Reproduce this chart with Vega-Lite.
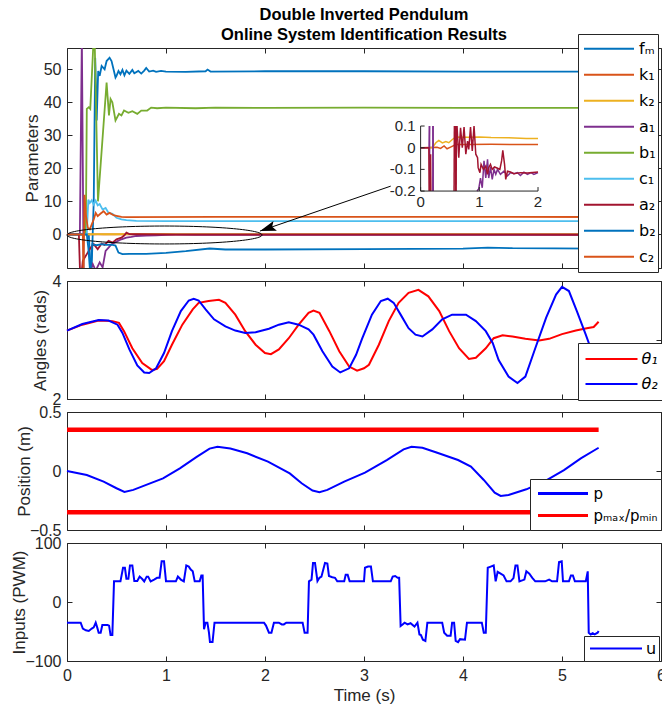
{
  "$schema": "https://vega.github.io/schema/vega-lite/v6.json",
  "background": "white",
  "padding": {"left": 9, "top": 6, "right": 0, "bottom": 0},
  "bounds": "flush",
  "spacing": 13,
  "title": {
    "text": ["Double Inverted Pendulum", "Online System Identification Results"],
    "anchor": "middle",
    "frame": "group",
    "fontSize": 16.5,
    "fontWeight": "bold",
    "font": "Liberation Sans",
    "color": "#000000",
    "lineHeight": 20,
    "offset": -10
  },
  "datasets": {
    "params": [
      {"s":"fₘ","t":0,"v":0},{"s":"fₘ","t":0.22,"v":0},{"s":"fₘ","t":0.245,"v":-14},{"s":"fₘ","t":0.27,"v":10},{"s":"fₘ","t":0.285,"v":53.5},{"s":"fₘ","t":0.3,"v":34.5},{"s":"fₘ","t":0.315,"v":49.5},{"s":"fₘ","t":0.33,"v":48},{"s":"fₘ","t":0.35,"v":51},{"s":"fₘ","t":0.38,"v":50},{"s":"fₘ","t":0.4,"v":52.5},{"s":"fₘ","t":0.43,"v":53.5},{"s":"fₘ","t":0.45,"v":52.5},{"s":"fₘ","t":0.47,"v":50},{"s":"fₘ","t":0.49,"v":47.5},{"s":"fₘ","t":0.5,"v":48},{"s":"fₘ","t":0.52,"v":49.5},{"s":"fₘ","t":0.54,"v":48.5},{"s":"fₘ","t":0.56,"v":49.8},{"s":"fₘ","t":0.58,"v":48.2},{"s":"fₘ","t":0.6,"v":49.6},{"s":"fₘ","t":0.63,"v":48.6},{"s":"fₘ","t":0.66,"v":49.8},{"s":"fₘ","t":0.68,"v":48.8},{"s":"fₘ","t":0.72,"v":49.5},{"s":"fₘ","t":0.75,"v":48.7},{"s":"fₘ","t":0.78,"v":49.6},{"s":"fₘ","t":0.8,"v":50.4},{"s":"fₘ","t":0.83,"v":49.3},{"s":"fₘ","t":0.87,"v":49.6},{"s":"fₘ","t":0.9,"v":49.2},{"s":"fₘ","t":0.95,"v":49.5},{"s":"fₘ","t":1.0,"v":49.3},{"s":"fₘ","t":1.2,"v":49.2},{"s":"fₘ","t":1.4,"v":49.4},{"s":"fₘ","t":1.42,"v":49.9},{"s":"fₘ","t":1.45,"v":49.3},{"s":"fₘ","t":2.0,"v":49.4},{"s":"fₘ","t":3.0,"v":49.4},{"s":"fₘ","t":4.0,"v":49.3},{"s":"fₘ","t":5.35,"v":49.3},
      {"s":"k₁","t":0,"v":0},{"s":"k₁","t":0.28,"v":0},{"s":"k₁","t":0.34,"v":-0.003},{"s":"k₁","t":0.4,"v":0.008},{"s":"k₁","t":0.45,"v":-0.005},{"s":"k₁","t":0.51,"v":0.003},{"s":"k₁","t":0.6,"v":0.015},{"s":"k₁","t":5.35,"v":0.015},
      {"s":"k₂","t":0,"v":0},{"s":"k₂","t":0.2,"v":0},{"s":"k₂","t":0.26,"v":0.023},{"s":"k₂","t":0.31,"v":0.034},{"s":"k₂","t":0.37,"v":0.022},{"s":"k₂","t":0.48,"v":0.023},{"s":"k₂","t":0.6,"v":0.049},{"s":"k₂","t":2,"v":0.042},{"s":"k₂","t":5.35,"v":0.04},
      {"s":"a₁","t":0,"v":0},{"s":"a₁","t":0.13,"v":0},{"s":"a₁","t":0.15,"v":60},{"s":"a₁","t":0.17,"v":-20},{"s":"a₁","t":0.22,"v":-12},{"s":"a₁","t":0.26,"v":-9},{"s":"a₁","t":0.29,"v":-11},{"s":"a₁","t":0.33,"v":-8.5},{"s":"a₁","t":0.36,"v":-10},{"s":"a₁","t":0.39,"v":-5},{"s":"a₁","t":0.42,"v":-4},{"s":"a₁","t":0.45,"v":-3},{"s":"a₁","t":0.5,"v":-2.2},{"s":"a₁","t":0.55,"v":-1.5},{"s":"a₁","t":0.6,"v":-1},{"s":"a₁","t":0.65,"v":-0.8},{"s":"a₁","t":0.7,"v":-0.5},{"s":"a₁","t":0.8,"v":-0.4},{"s":"a₁","t":0.9,"v":-0.3},{"s":"a₁","t":1.0,"v":-0.15},{"s":"a₁","t":1.1,"v":-0.1},{"s":"a₁","t":1.3,"v":-0.12},{"s":"a₁","t":5.35,"v":-0.12},
      {"s":"b₁","t":0,"v":0},{"s":"b₁","t":0.19,"v":0},{"s":"b₁","t":0.2,"v":38},{"s":"b₁","t":0.22,"v":38.5},{"s":"b₁","t":0.235,"v":38},{"s":"b₁","t":0.27,"v":60},{"s":"b₁","t":0.28,"v":58},{"s":"b₁","t":0.313,"v":10},{"s":"b₁","t":0.4,"v":46},{"s":"b₁","t":0.424,"v":36},{"s":"b₁","t":0.44,"v":41},{"s":"b₁","t":0.458,"v":40},{"s":"b₁","t":0.49,"v":34.5},{"s":"b₁","t":0.525,"v":36.5},{"s":"b₁","t":0.55,"v":36},{"s":"b₁","t":0.576,"v":37.5},{"s":"b₁","t":0.62,"v":36.8},{"s":"b₁","t":0.66,"v":37.3},{"s":"b₁","t":0.71,"v":36.5},{"s":"b₁","t":0.75,"v":37.5},{"s":"b₁","t":0.81,"v":37.5},{"s":"b₁","t":0.85,"v":38.4},{"s":"b₁","t":0.91,"v":38.2},{"s":"b₁","t":1.0,"v":38.4},{"s":"b₁","t":1.3,"v":38.2},{"s":"b₁","t":1.5,"v":38.4},{"s":"b₁","t":2,"v":38.3},{"s":"b₁","t":3,"v":38.4},{"s":"b₁","t":4,"v":38.3},{"s":"b₁","t":5.35,"v":38.3},
      {"s":"c₁","t":0,"v":0},{"s":"c₁","t":0.2,"v":0},{"s":"c₁","t":0.215,"v":10.5},{"s":"c₁","t":0.23,"v":9.5},{"s":"c₁","t":0.25,"v":10.3},{"s":"c₁","t":0.27,"v":9},{"s":"c₁","t":0.29,"v":10.2},{"s":"c₁","t":0.31,"v":8.8},{"s":"c₁","t":0.33,"v":9.2},{"s":"c₁","t":0.36,"v":7.5},{"s":"c₁","t":0.39,"v":8},{"s":"c₁","t":0.42,"v":6.5},{"s":"c₁","t":0.46,"v":6.2},{"s":"c₁","t":0.5,"v":5},{"s":"c₁","t":0.55,"v":4.5},{"s":"c₁","t":0.6,"v":4.3},{"s":"c₁","t":0.7,"v":4.1},{"s":"c₁","t":1.0,"v":4.0},{"s":"c₁","t":5.35,"v":4.0},
      {"s":"a₂","t":0,"v":0},{"s":"a₂","t":0.12,"v":0},{"s":"a₂","t":0.135,"v":-15},{"s":"a₂","t":0.16,"v":-8},{"s":"a₂","t":0.2,"v":-6},{"s":"a₂","t":0.24,"v":-4},{"s":"a₂","t":0.27,"v":-3},{"s":"a₂","t":0.31,"v":-4.5},{"s":"a₂","t":0.35,"v":-2.8},{"s":"a₂","t":0.38,"v":-3.2},{"s":"a₂","t":0.42,"v":-2},{"s":"a₂","t":0.46,"v":-2.5},{"s":"a₂","t":0.5,"v":-1.5},{"s":"a₂","t":0.55,"v":-1},{"s":"a₂","t":0.58,"v":-0.3},{"s":"a₂","t":0.6,"v":0.5},{"s":"a₂","t":0.63,"v":0.05},{"s":"a₂","t":0.7,"v":0.02},{"s":"a₂","t":1.0,"v":-0.05},{"s":"a₂","t":1.1,"v":-0.1},{"s":"a₂","t":5.35,"v":-0.12},
      {"s":"b₂","t":0,"v":0},{"s":"b₂","t":0.2,"v":0},{"s":"b₂","t":0.215,"v":-4},{"s":"b₂","t":0.235,"v":-12},{"s":"b₂","t":0.255,"v":-3},{"s":"b₂","t":0.3,"v":-3.3},{"s":"b₂","t":0.35,"v":-3},{"s":"b₂","t":0.4,"v":-3.2},{"s":"b₂","t":0.45,"v":-3.1},{"s":"b₂","t":0.49,"v":-3.4},{"s":"b₂","t":0.52,"v":-5.5},{"s":"b₂","t":0.56,"v":-6},{"s":"b₂","t":0.63,"v":-5.9},{"s":"b₂","t":0.8,"v":-5.9},{"s":"b₂","t":1.0,"v":-5.6},{"s":"b₂","t":1.2,"v":-5.1},{"s":"b₂","t":1.44,"v":-4.3},{"s":"b₂","t":1.6,"v":-4.6},{"s":"b₂","t":2.0,"v":-4.6},{"s":"b₂","t":3.0,"v":-4.5},{"s":"b₂","t":4.0,"v":-4.3},{"s":"b₂","t":4.25,"v":-4.0},{"s":"b₂","t":4.5,"v":-4.2},{"s":"b₂","t":5.35,"v":-4.3},
      {"s":"c₂","t":0,"v":0},{"s":"c₂","t":0.16,"v":0},{"s":"c₂","t":0.167,"v":-12},{"s":"c₂","t":0.177,"v":12},{"s":"c₂","t":0.19,"v":6},{"s":"c₂","t":0.21,"v":2},{"s":"c₂","t":0.23,"v":1.5},{"s":"c₂","t":0.25,"v":3},{"s":"c₂","t":0.27,"v":4.5},{"s":"c₂","t":0.29,"v":6.5},{"s":"c₂","t":0.31,"v":5.5},{"s":"c₂","t":0.34,"v":6.3},{"s":"c₂","t":0.37,"v":7},{"s":"c₂","t":0.4,"v":6},{"s":"c₂","t":0.43,"v":6.5},{"s":"c₂","t":0.47,"v":5.8},{"s":"c₂","t":0.5,"v":5.6},{"s":"c₂","t":0.55,"v":5.3},{"s":"c₂","t":0.6,"v":5.2},{"s":"c₂","t":1.5,"v":5.3},{"s":"c₂","t":5.35,"v":5.25}
    ],
    "inset": [
      {"s":"k₁","g":1,"t":0,"v":0},{"s":"k₁","g":1,"t":0.28,"v":0.002},{"s":"k₁","g":1,"t":0.34,"v":-0.003},{"s":"k₁","g":1,"t":0.4,"v":0.008},{"s":"k₁","g":1,"t":0.45,"v":-0.005},{"s":"k₁","g":1,"t":0.51,"v":0.003},{"s":"k₁","g":1,"t":0.6,"v":0.015},{"s":"k₁","g":1,"t":0.8,"v":0.015},{"s":"k₁","g":1,"t":1.2,"v":0.016},{"s":"k₁","g":1,"t":1.6,"v":0.015},{"s":"k₁","g":1,"t":2.0,"v":0.015},
      {"s":"k₂","g":1,"t":0,"v":0},{"s":"k₂","g":1,"t":0.2,"v":0},{"s":"k₂","g":1,"t":0.26,"v":0.023},{"s":"k₂","g":1,"t":0.31,"v":0.034},{"s":"k₂","g":1,"t":0.37,"v":0.022},{"s":"k₂","g":1,"t":0.43,"v":0.028},{"s":"k₂","g":1,"t":0.48,"v":0.023},{"s":"k₂","g":1,"t":0.54,"v":0.038},{"s":"k₂","g":1,"t":0.6,"v":0.049},{"s":"k₂","g":1,"t":0.8,"v":0.048},{"s":"k₂","g":1,"t":1.0,"v":0.049},{"s":"k₂","g":1,"t":1.2,"v":0.047},{"s":"k₂","g":1,"t":1.5,"v":0.046},{"s":"k₂","g":1,"t":1.8,"v":0.043},{"s":"k₂","g":1,"t":2.0,"v":0.042},
      {"s":"a₁","g":1,"t":0,"v":0},{"s":"a₁","g":1,"t":0.145,"v":0},{"s":"a₁","g":1,"t":0.15,"v":0.1},
      {"s":"a₁","g":2,"t":0.152,"v":0.1},{"s":"a₁","g":2,"t":0.155,"v":-0.2},
      {"s":"a₁","g":3,"t":0.208,"v":-0.2},{"s":"a₁","g":3,"t":0.21,"v":0.1},
      {"s":"a₁","g":4,"t":0.212,"v":0.1},{"s":"a₁","g":4,"t":0.215,"v":-0.2},
      {"s":"a₁","g":5,"t":0.96,"v":-0.2},{"s":"a₁","g":5,"t":0.99,"v":-0.19},{"s":"a₁","g":5,"t":1.02,"v":-0.14},{"s":"a₁","g":5,"t":1.05,"v":-0.185},{"s":"a₁","g":5,"t":1.08,"v":-0.06},{"s":"a₁","g":5,"t":1.11,"v":-0.14},{"s":"a₁","g":5,"t":1.14,"v":-0.054},{"s":"a₁","g":5,"t":1.16,"v":-0.14},{"s":"a₁","g":5,"t":1.19,"v":-0.09},{"s":"a₁","g":5,"t":1.22,"v":-0.146},{"s":"a₁","g":5,"t":1.25,"v":-0.1},{"s":"a₁","g":5,"t":1.28,"v":-0.123},{"s":"a₁","g":5,"t":1.31,"v":-0.1},{"s":"a₁","g":5,"t":1.36,"v":-0.123},{"s":"a₁","g":5,"t":1.42,"v":-0.108},{"s":"a₁","g":5,"t":1.48,"v":-0.13},{"s":"a₁","g":5,"t":1.53,"v":-0.115},{"s":"a₁","g":5,"t":1.59,"v":-0.12},{"s":"a₁","g":5,"t":1.65,"v":-0.115},{"s":"a₁","g":5,"t":1.7,"v":-0.128},{"s":"a₁","g":5,"t":1.76,"v":-0.113},{"s":"a₁","g":5,"t":1.82,"v":-0.123},{"s":"a₁","g":5,"t":1.88,"v":-0.115},{"s":"a₁","g":5,"t":1.93,"v":-0.123},{"s":"a₁","g":5,"t":2.0,"v":-0.115},
      {"s":"a₂","g":1,"t":0,"v":0},{"s":"a₂","g":1,"t":0.14,"v":0},{"s":"a₂","g":1,"t":0.145,"v":-0.2},
      {"s":"a₂","g":2,"t":0.165,"v":-0.2},{"s":"a₂","g":2,"t":0.17,"v":-0.03},{"s":"a₂","g":2,"t":0.175,"v":-0.2},
      {"s":"a₂","g":3,"t":0.57,"v":-0.2},{"s":"a₂","g":3,"t":0.575,"v":0.1},
      {"s":"a₂","g":4,"t":0.59,"v":0.1},{"s":"a₂","g":4,"t":0.595,"v":-0.2},
      {"s":"a₂","g":5,"t":0.605,"v":-0.2},{"s":"a₂","g":5,"t":0.61,"v":0.1},
      {"s":"a₂","g":6,"t":0.62,"v":0.1},{"s":"a₂","g":6,"t":0.65,"v":-0.046},{"s":"a₂","g":6,"t":0.68,"v":0.092},{"s":"a₂","g":6,"t":0.71,"v":0},{"s":"a₂","g":6,"t":0.74,"v":0.095},{"s":"a₂","g":6,"t":0.77,"v":-0.03},{"s":"a₂","g":6,"t":0.8,"v":0.03},{"s":"a₂","g":6,"t":0.82,"v":-0.008},{"s":"a₂","g":6,"t":0.85,"v":0.095},{"s":"a₂","g":6,"t":0.88,"v":-0.015},{"s":"a₂","g":6,"t":0.91,"v":0.1},{"s":"a₂","g":6,"t":0.94,"v":-0.03},{"s":"a₂","g":6,"t":0.97,"v":-0.046},{"s":"a₂","g":6,"t":0.98,"v":-0.092},{"s":"a₂","g":6,"t":1.01,"v":-0.115},{"s":"a₂","g":6,"t":1.03,"v":-0.077},{"s":"a₂","g":6,"t":1.07,"v":-0.1},{"s":"a₂","g":6,"t":1.11,"v":-0.085},{"s":"a₂","g":6,"t":1.14,"v":-0.123},{"s":"a₂","g":6,"t":1.16,"v":-0.092},{"s":"a₂","g":6,"t":1.19,"v":-0.077},{"s":"a₂","g":6,"t":1.22,"v":-0.1},{"s":"a₂","g":6,"t":1.26,"v":-0.089},{"s":"a₂","g":6,"t":1.31,"v":-0.095},{"s":"a₂","g":6,"t":1.35,"v":-0.1},{"s":"a₂","g":6,"t":1.38,"v":-0.06},{"s":"a₂","g":6,"t":1.4,"v":-0.012},{"s":"a₂","g":6,"t":1.43,"v":-0.077},{"s":"a₂","g":6,"t":1.45,"v":-0.146},{"s":"a₂","g":6,"t":1.48,"v":-0.108},{"s":"a₂","g":6,"t":1.53,"v":-0.112},{"s":"a₂","g":6,"t":1.59,"v":-0.12},{"s":"a₂","g":6,"t":1.7,"v":-0.115},{"s":"a₂","g":6,"t":1.82,"v":-0.117},{"s":"a₂","g":6,"t":2.0,"v":-0.112}
    ],
    "insetYLabels": [{"lab":"0.1","v":0.1},{"lab":"0","v":0},{"lab":"-0.1","v":-0.1},{"lab":"-0.2","v":-0.2}],
    "insetXLabels": [{"lab":"0","t":0},{"lab":"1","t":1},{"lab":"2","t":2}],
    "arrow": [{"t":3.27,"v":14.6},{"t":1.95,"v":1.0}],
    "angles": [
      {"s":"θ₁","t":0,"v":3.16},{"s":"θ₁","t":0.155,"v":3.26},{"s":"θ₁","t":0.32,"v":3.33},{"s":"θ₁","t":0.46,"v":3.32},{"s":"θ₁","t":0.525,"v":3.29},{"s":"θ₁","t":0.576,"v":3.15},{"s":"θ₁","t":0.66,"v":2.86},{"s":"θ₁","t":0.76,"v":2.61},{"s":"θ₁","t":0.86,"v":2.49},{"s":"θ₁","t":0.91,"v":2.51},{"s":"θ₁","t":0.98,"v":2.64},{"s":"θ₁","t":1.06,"v":2.92},{"s":"θ₁","t":1.165,"v":3.26},{"s":"θ₁","t":1.27,"v":3.52},{"s":"θ₁","t":1.33,"v":3.63},{"s":"θ₁","t":1.43,"v":3.66},{"s":"θ₁","t":1.535,"v":3.68},{"s":"θ₁","t":1.6,"v":3.63},{"s":"θ₁","t":1.7,"v":3.43},{"s":"θ₁","t":1.8,"v":3.15},{"s":"θ₁","t":1.905,"v":2.92},{"s":"θ₁","t":2.0,"v":2.78},{"s":"θ₁","t":2.06,"v":2.76},{"s":"θ₁","t":2.14,"v":2.84},{"s":"θ₁","t":2.24,"v":3.03},{"s":"θ₁","t":2.34,"v":3.26},{"s":"θ₁","t":2.44,"v":3.46},{"s":"θ₁","t":2.49,"v":3.5},{"s":"θ₁","t":2.55,"v":3.46},{"s":"θ₁","t":2.65,"v":3.15},{"s":"θ₁","t":2.75,"v":2.81},{"s":"θ₁","t":2.85,"v":2.55},{"s":"θ₁","t":2.93,"v":2.48},{"s":"θ₁","t":3.0,"v":2.52},{"s":"θ₁","t":3.05,"v":2.58},{"s":"θ₁","t":3.15,"v":2.92},{"s":"θ₁","t":3.25,"v":3.32},{"s":"θ₁","t":3.35,"v":3.63},{"s":"θ₁","t":3.45,"v":3.8},{"s":"θ₁","t":3.55,"v":3.85},{"s":"θ₁","t":3.65,"v":3.74},{"s":"θ₁","t":3.76,"v":3.49},{"s":"θ₁","t":3.86,"v":3.15},{"s":"θ₁","t":3.96,"v":2.86},{"s":"θ₁","t":4.06,"v":2.68},{"s":"θ₁","t":4.13,"v":2.7},{"s":"θ₁","t":4.23,"v":2.86},{"s":"θ₁","t":4.31,"v":3.03},{"s":"θ₁","t":4.4,"v":3.08},{"s":"θ₁","t":4.5,"v":3.06},{"s":"θ₁","t":4.63,"v":3.02},{"s":"θ₁","t":4.77,"v":2.99},{"s":"θ₁","t":4.87,"v":3.02},{"s":"θ₁","t":5.0,"v":3.1},{"s":"θ₁","t":5.14,"v":3.16},{"s":"θ₁","t":5.25,"v":3.2},{"s":"θ₁","t":5.32,"v":3.22},{"s":"θ₁","t":5.37,"v":3.31},
      {"s":"θ₂","t":0,"v":3.16},{"s":"θ₂","t":0.155,"v":3.27},{"s":"θ₂","t":0.32,"v":3.34},{"s":"θ₂","t":0.42,"v":3.33},{"s":"θ₂","t":0.51,"v":3.26},{"s":"θ₂","t":0.56,"v":3.12},{"s":"θ₂","t":0.63,"v":2.84},{"s":"θ₂","t":0.71,"v":2.57},{"s":"θ₂","t":0.78,"v":2.45},{"s":"θ₂","t":0.83,"v":2.44},{"s":"θ₂","t":0.9,"v":2.52},{"s":"θ₂","t":0.98,"v":2.78},{"s":"θ₂","t":1.06,"v":3.15},{"s":"θ₂","t":1.15,"v":3.49},{"s":"θ₂","t":1.23,"v":3.67},{"s":"θ₂","t":1.28,"v":3.7},{"s":"θ₂","t":1.33,"v":3.67},{"s":"θ₂","t":1.4,"v":3.52},{"s":"θ₂","t":1.485,"v":3.35},{"s":"θ₂","t":1.6,"v":3.23},{"s":"θ₂","t":1.7,"v":3.16},{"s":"θ₂","t":1.8,"v":3.12},{"s":"θ₂","t":1.905,"v":3.13},{"s":"θ₂","t":2.04,"v":3.19},{"s":"θ₂","t":2.14,"v":3.26},{"s":"θ₂","t":2.24,"v":3.3},{"s":"θ₂","t":2.34,"v":3.26},{"s":"θ₂","t":2.44,"v":3.18},{"s":"θ₂","t":2.49,"v":3.09},{"s":"θ₂","t":2.58,"v":2.81},{"s":"θ₂","t":2.68,"v":2.55},{"s":"θ₂","t":2.76,"v":2.45},{"s":"θ₂","t":2.85,"v":2.52},{"s":"θ₂","t":2.92,"v":2.75},{"s":"θ₂","t":2.98,"v":3.02},{"s":"θ₂","t":3.08,"v":3.43},{"s":"θ₂","t":3.17,"v":3.66},{"s":"θ₂","t":3.24,"v":3.7},{"s":"θ₂","t":3.3,"v":3.63},{"s":"θ₂","t":3.37,"v":3.43},{"s":"θ₂","t":3.45,"v":3.2},{"s":"θ₂","t":3.52,"v":3.09},{"s":"θ₂","t":3.59,"v":3.06},{"s":"θ₂","t":3.69,"v":3.18},{"s":"θ₂","t":3.79,"v":3.35},{"s":"θ₂","t":3.89,"v":3.43},{"s":"θ₂","t":4.03,"v":3.43},{"s":"θ₂","t":4.13,"v":3.32},{"s":"θ₂","t":4.23,"v":3.15},{"s":"θ₂","t":4.3,"v":2.95},{"s":"θ₂","t":4.36,"v":2.66},{"s":"θ₂","t":4.46,"v":2.38},{"s":"θ₂","t":4.55,"v":2.27},{"s":"θ₂","t":4.63,"v":2.38},{"s":"θ₂","t":4.73,"v":2.86},{"s":"θ₂","t":4.84,"v":3.38},{"s":"θ₂","t":4.94,"v":3.77},{"s":"θ₂","t":5.0,"v":3.9},{"s":"θ₂","t":5.07,"v":3.83},{"s":"θ₂","t":5.15,"v":3.49},{"s":"θ₂","t":5.24,"v":3.09},{"s":"θ₂","t":5.29,"v":2.86},{"s":"θ₂","t":5.37,"v":2.5}
    ],
    "pos": [
      {"s":"p","b":"p","t":0,"v":0},{"s":"p","b":"p","t":0.2,"v":-0.034},{"s":"p","b":"p","t":0.37,"v":-0.09},{"s":"p","b":"p","t":0.5,"v":-0.146},{"s":"p","b":"p","t":0.58,"v":-0.177},{"s":"p","b":"p","t":0.67,"v":-0.16},{"s":"p","b":"p","t":0.8,"v":-0.118},{"s":"p","b":"p","t":0.97,"v":-0.062},{"s":"p","b":"p","t":1.14,"v":0.023},{"s":"p","b":"p","t":1.31,"v":0.12},{"s":"p","b":"p","t":1.44,"v":0.19},{"s":"p","b":"p","t":1.52,"v":0.206},{"s":"p","b":"p","t":1.65,"v":0.19},{"s":"p","b":"p","t":1.82,"v":0.15},{"s":"p","b":"p","t":2.03,"v":0.079},{"s":"p","b":"p","t":2.25,"v":-0.02},{"s":"p","b":"p","t":2.37,"v":-0.104},{"s":"p","b":"p","t":2.48,"v":-0.166},{"s":"p","b":"p","t":2.55,"v":-0.18},{"s":"p","b":"p","t":2.63,"v":-0.16},{"s":"p","b":"p","t":2.8,"v":-0.09},{"s":"p","b":"p","t":3.01,"v":-0.014},{"s":"p","b":"p","t":3.23,"v":0.093},{"s":"p","b":"p","t":3.4,"v":0.183},{"s":"p","b":"p","t":3.48,"v":0.206},{"s":"p","b":"p","t":3.59,"v":0.197},{"s":"p","b":"p","t":3.74,"v":0.155},{"s":"p","b":"p","t":3.95,"v":0.093},{"s":"p","b":"p","t":4.08,"v":0.037},{"s":"p","b":"p","t":4.21,"v":-0.076},{"s":"p","b":"p","t":4.32,"v":-0.183},{"s":"p","b":"p","t":4.38,"v":-0.211},{"s":"p","b":"p","t":4.46,"v":-0.203},{"s":"p","b":"p","t":4.64,"v":-0.155},{"s":"p","b":"p","t":4.85,"v":-0.076},{"s":"p","b":"p","t":5.02,"v":0.008},{"s":"p","b":"p","t":5.19,"v":0.107},{"s":"p","b":"p","t":5.37,"v":0.197},
      {"s":"pₘₐₓ/pₘᵢₙ","b":"max","t":0,"v":0.35},{"s":"pₘₐₓ/pₘᵢₙ","b":"max","t":5.37,"v":0.35},{"s":"pₘₐₓ/pₘᵢₙ","b":"min","t":0,"v":-0.35},{"s":"pₘₐₓ/pₘᵢₙ","b":"min","t":5.37,"v":-0.35}
    ],
    "inputs": [
      {"t":0,"v":-35},{"t":0.138,"v":-35},{"t":0.16,"v":-45},{"t":0.19,"v":-48},{"t":0.22,"v":-49},{"t":0.25,"v":-45},{"t":0.27,"v":-43},{"t":0.29,"v":-35},{"t":0.305,"v":-43},{"t":0.32,"v":-52},{"t":0.34,"v":-52},{"t":0.357,"v":-39},{"t":0.41,"v":-39},{"t":0.425,"v":-40},{"t":0.44,"v":-56},{"t":0.458,"v":-56},{"t":0.475,"v":35},{"t":0.54,"v":35},{"t":0.566,"v":58},{"t":0.585,"v":58},{"t":0.6,"v":39.4},{"t":0.62,"v":39.4},{"t":0.636,"v":62},{"t":0.66,"v":62},{"t":0.68,"v":35.5},{"t":0.71,"v":35.5},{"t":0.734,"v":43},{"t":0.76,"v":39},{"t":0.78,"v":35},{"t":0.805,"v":43},{"t":0.82,"v":43},{"t":0.845,"v":35},{"t":0.88,"v":38},{"t":0.91,"v":41},{"t":0.935,"v":41},{"t":0.956,"v":69},{"t":0.98,"v":69},{"t":1.0,"v":35},{"t":1.1,"v":35},{"t":1.12,"v":43},{"t":1.15,"v":38},{"t":1.18,"v":35},{"t":1.205,"v":62},{"t":1.23,"v":60},{"t":1.25,"v":55},{"t":1.27,"v":52},{"t":1.29,"v":35},{"t":1.34,"v":35},{"t":1.357,"v":45},{"t":1.37,"v":45},{"t":1.384,"v":-46},{"t":1.4,"v":-35},{"t":1.418,"v":-35},{"t":1.434,"v":-52},{"t":1.444,"v":-68},{"t":1.47,"v":-68},{"t":1.49,"v":-35},{"t":1.99,"v":-35},{"t":2.01,"v":-40},{"t":2.04,"v":-52},{"t":2.065,"v":-52},{"t":2.09,"v":-35},{"t":2.14,"v":-35},{"t":2.17,"v":-38},{"t":2.19,"v":-38},{"t":2.215,"v":-35},{"t":2.38,"v":-35},{"t":2.4,"v":-52},{"t":2.43,"v":-52},{"t":2.444,"v":35},{"t":2.47,"v":38},{"t":2.485,"v":66},{"t":2.505,"v":66},{"t":2.53,"v":35.5},{"t":2.55,"v":41},{"t":2.57,"v":43},{"t":2.606,"v":66},{"t":2.63,"v":65},{"t":2.646,"v":44},{"t":2.68,"v":42},{"t":2.707,"v":41},{"t":2.73,"v":35},{"t":2.8,"v":35},{"t":2.815,"v":46},{"t":2.835,"v":46},{"t":2.855,"v":35},{"t":3.0,"v":35},{"t":3.01,"v":58},{"t":3.04,"v":60},{"t":3.07,"v":60},{"t":3.09,"v":35},{"t":3.27,"v":35},{"t":3.29,"v":43},{"t":3.315,"v":44},{"t":3.34,"v":41},{"t":3.355,"v":41},{"t":3.37,"v":-40.6},{"t":3.39,"v":-38},{"t":3.41,"v":-35},{"t":3.44,"v":-38},{"t":3.47,"v":-36},{"t":3.51,"v":-41.7},{"t":3.54,"v":-35},{"t":3.56,"v":-55},{"t":3.575,"v":-56},{"t":3.595,"v":-64},{"t":3.62,"v":-66},{"t":3.64,"v":-35},{"t":3.79,"v":-35},{"t":3.81,"v":-52},{"t":3.84,"v":-57},{"t":3.875,"v":-57},{"t":3.89,"v":-35},{"t":3.91,"v":-35},{"t":3.926,"v":-66},{"t":3.95,"v":-68},{"t":3.97,"v":-63},{"t":4.02,"v":-64},{"t":4.04,"v":-35},{"t":4.19,"v":-35},{"t":4.21,"v":-52},{"t":4.23,"v":-52},{"t":4.25,"v":58},{"t":4.28,"v":60},{"t":4.31,"v":62},{"t":4.33,"v":35},{"t":4.35,"v":51},{"t":4.38,"v":48},{"t":4.41,"v":45},{"t":4.44,"v":35},{"t":4.48,"v":35},{"t":4.51,"v":40.6},{"t":4.53,"v":62},{"t":4.55,"v":62},{"t":4.57,"v":35},{"t":4.62,"v":38},{"t":4.64,"v":52},{"t":4.67,"v":48},{"t":4.7,"v":41},{"t":4.73,"v":35},{"t":4.83,"v":35},{"t":4.87,"v":38},{"t":4.9,"v":35},{"t":4.95,"v":35},{"t":4.97,"v":67.6},{"t":4.997,"v":69},{"t":5.01,"v":35},{"t":5.07,"v":35},{"t":5.09,"v":45},{"t":5.11,"v":45},{"t":5.13,"v":35},{"t":5.24,"v":35},{"t":5.26,"v":52},{"t":5.27,"v":-52},{"t":5.29,"v":-55},{"t":5.31,"v":-53},{"t":5.33,"v":-55},{"t":5.36,"v":-52},{"t":5.37,"v":-49}
    ]
  },
  "vconcat": [
    {
      "width": 594,
      "height": 220,
      "layer": [
        {
          "layer": [
            {
              "layer": [
                {
                  "data": {"name": "params"},
                  "mark": {"type": "line", "strokeWidth": 1.8, "clip": true},
                  "encoding": {
                    "x": {"field": "t", "type": "quantitative", "scale": {"domain": [0, 6], "nice": false, "zero": false}, "axis": {"values": [0,1,2,3,4,5,6], "labels": false, "title": null}},
                    "y": {"field": "v", "type": "quantitative", "scale": {"domain": [-10.2, 56.45], "nice": false, "zero": false}, "axis": {"values": [0,10,20,30,40,50], "format": "d", "title": "Parameters", "titleX": -35, "titleBaseline": "middle"}},
                    "color": {"field": "s", "type": "nominal", "scale": {"domain": ["fₘ","k₁","k₂","a₁","b₁","c₁","a₂","b₂","c₂"], "range": ["#0072BD","#D95319","#EDB120","#7E2F8E","#77AC30","#4DBEEE","#A2142F","#0072BD","#D95319"]},
                      "legend": {"orient": "none", "legendX": 511, "legendY": -14, "title": null, "symbolType": "stroke", "symbolSize": 2500, "symbolStrokeWidth": 2, "clipHeight": 25.5, "rowPadding": 0, "padding": 2, "symbolOffset": 3, "labelOffset": 4, "labelFontSize": 16, "labelFont": "DejaVu Sans", "labelColor": "#000000", "fillColor": "white", "strokeColor": "#262626"}}
                  }
                },
                {
                  "data": {"values": [{"t": 0.985, "v": -0.2}]},
                  "mark": {"type": "point", "shape": "M-1,0A1,0.092,0,1,0,1,0A1,0.092,0,1,0,-1,0Z", "size": 38025, "filled": false, "stroke": "#000000", "strokeWidth": 1, "opacity": 1},
                  "encoding": {
                    "x": {"field": "t", "type": "quantitative", "scale": {"domain": [0, 6], "nice": false, "zero": false}, "axis": {"values": [0,1,2,3,4,5,6], "labels": false, "title": null}},
                    "y": {"field": "v", "type": "quantitative", "scale": {"domain": [-10.2, 56.45], "nice": false, "zero": false}, "axis": {"values": [0,10,20,30,40,50], "format": "d", "title": "Parameters", "titleX": -35, "titleBaseline": "middle"}}
                  }
                },
                {
                  "data": {"name": "arrow"},
                  "mark": {"type": "line", "color": "#000000", "strokeWidth": 1},
                  "encoding": {
                    "x": {"field": "t", "type": "quantitative", "scale": {"domain": [0, 6], "nice": false, "zero": false}, "axis": {"values": [0,1,2,3,4,5,6], "labels": false, "title": null}},
                    "y": {"field": "v", "type": "quantitative", "scale": {"domain": [-10.2, 56.45], "nice": false, "zero": false}, "axis": {"values": [0,10,20,30,40,50], "format": "d", "title": "Parameters", "titleX": -35, "titleBaseline": "middle"}}
                  }
                },
                {
                  "data": {"values": [{"t": 1.95, "v": 1.0}]},
                  "mark": {"type": "point", "shape": "M0,0L2,-0.65L1.6,0L2,0.65Z", "size": 256, "filled": true, "color": "#000000", "opacity": 1, "angle": 341},
                  "encoding": {
                    "x": {"field": "t", "type": "quantitative", "scale": {"domain": [0, 6], "nice": false, "zero": false}, "axis": {"values": [0,1,2,3,4,5,6], "labels": false, "title": null}},
                    "y": {"field": "v", "type": "quantitative", "scale": {"domain": [-10.2, 56.45], "nice": false, "zero": false}, "axis": {"values": [0,10,20,30,40,50], "format": "d", "title": "Parameters", "titleX": -35, "titleBaseline": "middle"}}
                  }
                }
              ]
            },
            {
              "data": {"values": [{"t": 1, "v": 10}]},
              "mark": {"type": "point", "opacity": 0, "size": 1},
              "encoding": {
                "x": {"field": "t", "type": "quantitative", "scale": {"domain": [0, 6], "nice": false, "zero": false}, "axis": {"orient": "top", "values": [0,1,2,3,4,5,6], "labels": false, "title": null}},
                "y": {"field": "v", "type": "quantitative", "scale": {"domain": [-10.2, 56.45], "nice": false, "zero": false}, "axis": {"orient": "right", "values": [0,10,20,30,40,50], "labels": false, "title": null}}
              }
            }
          ],
          "resolve": {"axis": {"x": "independent", "y": "independent"}}
        },
        {
          "layer": [
            {
              "data": {"name": "inset"},
              "mark": {"type": "line", "strokeWidth": 1.5},
              "encoding": {
                "x": {"field": "t", "type": "quantitative", "scale": {"domain": [-6.024, 4.095], "nice": false, "zero": false}, "axis": null},
                "y": {"field": "v", "type": "quantitative", "scale": {"domain": [-0.555, 0.46], "nice": false, "zero": false}, "axis": null},
                "detail": {"field": "g", "type": "nominal"},
                "color": {"field": "s", "type": "nominal", "scale": {"domain": ["fₘ","k₁","k₂","a₁","b₁","c₁","a₂","b₂","c₂"], "range": ["#0072BD","#D95319","#EDB120","#7E2F8E","#77AC30","#4DBEEE","#A2142F","#0072BD","#D95319"]},
                  "legend": {"orient": "none", "legendX": 511, "legendY": -14, "title": null, "symbolType": "stroke", "symbolSize": 2500, "symbolStrokeWidth": 2, "clipHeight": 25.5, "rowPadding": 0, "padding": 2, "symbolOffset": 3, "labelOffset": 4, "labelFontSize": 16, "labelFont": "DejaVu Sans", "labelColor": "#000000", "fillColor": "white", "strokeColor": "#262626"}}
              }
            },
            {
              "data": {"values": [{"t": 0, "v": -0.2, "t2": 2, "v2": -0.2}, {"t": 0, "v": -0.2, "t2": 0, "v2": 0.1}]},
              "mark": {"type": "rule", "color": "#262626", "strokeWidth": 1},
              "encoding": {
                "x": {"field": "t", "type": "quantitative", "scale": {"domain": [-6.024, 4.095], "nice": false, "zero": false}, "axis": null},
                "y": {"field": "v", "type": "quantitative", "scale": {"domain": [-0.555, 0.46], "nice": false, "zero": false}, "axis": null},
                "x2": {"field": "t2"},
                "y2": {"field": "v2"}
              }
            },
            {
              "data": {"name": "insetXLabels"},
              "mark": {"type": "point", "shape": "M0,0L0,-1", "size": 64, "filled": false, "stroke": "#262626", "strokeWidth": 1, "opacity": 1},
              "encoding": {
                "x": {"field": "t", "type": "quantitative", "scale": {"domain": [-6.024, 4.095], "nice": false, "zero": false}, "axis": null},
                "y": {"datum": -0.2, "type": "quantitative", "scale": {"domain": [-0.555, 0.46], "nice": false, "zero": false}, "axis": null}
              }
            },
            {
              "data": {"name": "insetYLabels"},
              "mark": {"type": "point", "shape": "M0,0L1,0", "size": 64, "filled": false, "stroke": "#262626", "strokeWidth": 1, "opacity": 1},
              "encoding": {
                "x": {"datum": 0, "type": "quantitative", "scale": {"domain": [-6.024, 4.095], "nice": false, "zero": false}, "axis": null},
                "y": {"field": "v", "type": "quantitative", "scale": {"domain": [-0.555, 0.46], "nice": false, "zero": false}, "axis": null}
              }
            },
            {
              "data": {"name": "insetYLabels"},
              "mark": {"type": "text", "align": "right", "baseline": "middle", "dx": -5, "fontSize": 15, "color": "#262626"},
              "encoding": {
                "x": {"datum": 0, "type": "quantitative", "scale": {"domain": [-6.024, 4.095], "nice": false, "zero": false}, "axis": null},
                "y": {"field": "v", "type": "quantitative", "scale": {"domain": [-0.555, 0.46], "nice": false, "zero": false}, "axis": null},
                "text": {"field": "lab"}
              }
            },
            {
              "data": {"name": "insetXLabels"},
              "mark": {"type": "text", "align": "center", "baseline": "middle", "dy": 11, "fontSize": 15, "color": "#262626"},
              "encoding": {
                "x": {"field": "t", "type": "quantitative", "scale": {"domain": [-6.024, 4.095], "nice": false, "zero": false}, "axis": null},
                "y": {"datum": -0.2, "type": "quantitative", "scale": {"domain": [-0.555, 0.46], "nice": false, "zero": false}, "axis": null},
                "text": {"field": "lab"}
              }
            }
          ]
        }
      ],
      "resolve": {"scale": {"x": "independent", "y": "independent"}}
    },
    {
      "width": 594,
      "height": 118,
      "layer": [
        {
          "data": {"name": "angles"},
          "mark": {"type": "line", "strokeWidth": 2},
          "encoding": {
            "x": {"field": "t", "type": "quantitative", "scale": {"domain": [0, 6], "nice": false, "zero": false}, "axis": {"values": [0,1,2,3,4,5,6], "labels": false, "title": null}},
            "y": {"field": "v", "type": "quantitative", "scale": {"domain": [2, 4], "nice": false, "zero": false}, "axis": {"values": [2,3,4], "format": "d", "title": "Angles (rads)", "titleX": -27, "titleBaseline": "middle"}},
            "color": {"field": "s", "type": "nominal", "scale": {"domain": ["θ₁","θ₂"], "range": ["#FF0000","#0000FF"]},
              "legend": {"orient": "none", "legendX": 511, "legendY": 62, "title": null, "symbolType": "stroke", "symbolSize": 2704, "symbolStrokeWidth": 2, "clipHeight": 25, "rowPadding": 0, "padding": 3.5, "symbolOffset": 3, "labelOffset": 3, "labelFontSize": 16, "labelFontStyle": "italic", "labelFont": "DejaVu Sans", "labelColor": "#000000", "fillColor": "white", "strokeColor": "#262626"}}
          }
        },
        {
          "data": {"values": [{"t": 1, "v": 3}]},
          "mark": {"type": "point", "opacity": 0, "size": 1},
          "encoding": {
            "x": {"field": "t", "type": "quantitative", "scale": {"domain": [0, 6], "nice": false, "zero": false}, "axis": {"orient": "top", "values": [0,1,2,3,4,5,6], "labels": false, "title": null}},
            "y": {"field": "v", "type": "quantitative", "scale": {"domain": [2, 4], "nice": false, "zero": false}, "axis": {"orient": "right", "values": [2,3,4], "labels": false, "title": null}}
          }
        }
      ],
      "resolve": {"axis": {"x": "independent", "y": "independent"}}
    },
    {
      "width": 594,
      "height": 118,
      "layer": [
        {
          "data": {"name": "pos"},
          "mark": {"type": "line"},
          "encoding": {
            "x": {"field": "t", "type": "quantitative", "scale": {"domain": [0, 6], "nice": false, "zero": false}, "axis": {"values": [0,1,2,3,4,5,6], "labels": false, "title": null}},
            "y": {"field": "v", "type": "quantitative", "scale": {"domain": [-0.5, 0.5], "nice": false, "zero": false}, "axis": {"values": [-0.5,0,0.5], "format": "~g", "title": "Position (m)", "titleX": -43, "titleBaseline": "middle"}},
            "detail": {"field": "b", "type": "nominal"},
            "color": {"field": "s", "type": "nominal", "scale": {"domain": ["p","pₘₐₓ/pₘᵢₙ"], "range": ["#0000FF","#FF0000"]},
              "legend": {"orient": "none", "legendX": 463, "legendY": 67, "title": null, "symbolType": "stroke", "symbolSize": 2500, "symbolStrokeWidth": 3, "clipHeight": 22, "rowPadding": 0, "padding": 3.5, "symbolOffset": 3, "labelOffset": 4, "labelFontSize": 15, "labelFont": "DejaVu Sans", "labelColor": "#000000", "fillColor": "white", "strokeColor": "#262626"}},
            "strokeWidth": {"field": "s", "type": "ordinal", "scale": {"domain": ["p","pₘₐₓ/pₘᵢₙ"], "range": [2, 4.5]}, "legend": null}
          }
        },
        {
          "data": {"values": [{"t": 1, "v": 0}]},
          "mark": {"type": "point", "opacity": 0, "size": 1},
          "encoding": {
            "x": {"field": "t", "type": "quantitative", "scale": {"domain": [0, 6], "nice": false, "zero": false}, "axis": {"orient": "top", "values": [0,1,2,3,4,5,6], "labels": false, "title": null}},
            "y": {"field": "v", "type": "quantitative", "scale": {"domain": [-0.5, 0.5], "nice": false, "zero": false}, "axis": {"orient": "right", "values": [-0.5,0,0.5], "labels": false, "title": null}}
          }
        }
      ],
      "resolve": {"axis": {"x": "independent", "y": "independent"}}
    },
    {
      "width": 594,
      "height": 118,
      "layer": [
        {
          "data": {"name": "inputs"},
          "mark": {"type": "line", "strokeWidth": 2},
          "encoding": {
            "x": {"field": "t", "type": "quantitative", "scale": {"domain": [0, 6], "nice": false, "zero": false}, "axis": {"values": [0,1,2,3,4,5,6], "title": "Time (s)", "titlePadding": 4, "format": "d"}},
            "y": {"field": "v", "type": "quantitative", "scale": {"domain": [-100, 100], "nice": false, "zero": false}, "axis": {"values": [-100,0,100], "format": "d", "title": "Inputs (PWM)", "titleX": -48, "titleBaseline": "middle"}},
            "color": {"datum": "u", "type": "nominal", "scale": {"domain": ["u"], "range": ["#0000FF"]},
              "legend": {"orient": "none", "legendX": 517, "legendY": 93, "title": null, "symbolType": "stroke", "symbolSize": 2704, "symbolStrokeWidth": 2, "clipHeight": 21, "rowPadding": 0, "padding": 2, "symbolOffset": 3, "labelOffset": 3, "labelFontSize": 16, "labelFont": "DejaVu Sans", "labelColor": "#000000", "fillColor": "white", "strokeColor": "#262626"}}
          }
        },
        {
          "data": {"values": [{"t": 1, "v": 0}]},
          "mark": {"type": "point", "opacity": 0, "size": 1},
          "encoding": {
            "x": {"field": "t", "type": "quantitative", "scale": {"domain": [0, 6], "nice": false, "zero": false}, "axis": {"orient": "top", "values": [0,1,2,3,4,5,6], "labels": false, "title": null}},
            "y": {"field": "v", "type": "quantitative", "scale": {"domain": [-100, 100], "nice": false, "zero": false}, "axis": {"orient": "right", "values": [-100,0,100], "labels": false, "title": null}}
          }
        }
      ],
      "resolve": {"axis": {"x": "independent", "y": "independent"}}
    }
  ],
  "resolve": {"scale": {"color": "independent"}, "legend": {"color": "independent"}},
  "config": {
    "font": "Liberation Sans",
    "view": {"stroke": "#262626", "strokeWidth": 1},
    "axis": {"grid": false, "domain": false, "tickSize": -5, "tickColor": "#262626", "labelPadding": 11, "labelFontSize": 16, "labelColor": "#262626", "labelOverlap": false, "labelFlush": false, "titleFontSize": 17, "titleFontWeight": "normal", "titleColor": "#262626"}
  }
}
